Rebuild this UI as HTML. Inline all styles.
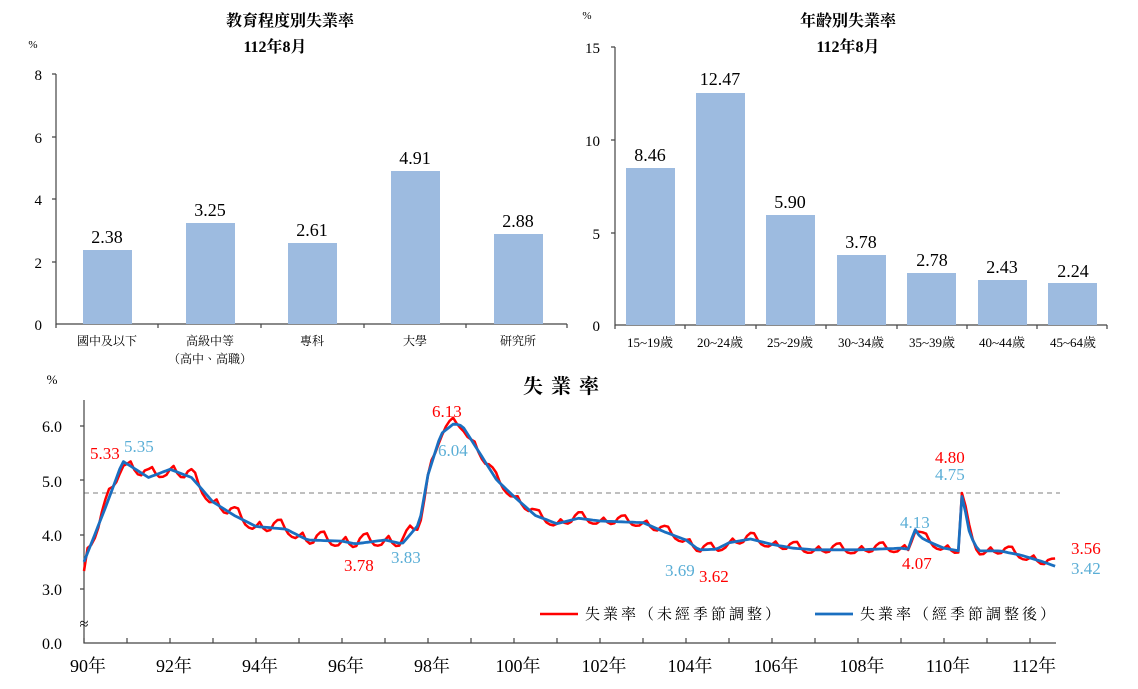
<!DOCTYPE html>
<html><head><meta charset="utf-8"><style>
body{margin:0;background:#fff;width:1138px;height:684px;overflow:hidden}
svg text{font-family:"Liberation Serif","Noto Serif CJK TC",serif}
.cj{font-family:"Liberation Serif","Noto Serif CJK TC","Noto Sans CJK TC",serif}
</style></head><body>
<svg id="s" width="1138" height="684" xmlns="http://www.w3.org/2000/svg">
<text x="290" y="26" text-anchor="middle" font-size="16" font-weight="bold" class="cj">教育程度別失業率</text>
<text x="275" y="52" text-anchor="middle" font-size="16" font-weight="bold" class="cj">112年8月</text>
<text x="33" y="48" font-size="11" text-anchor="middle">%</text>
<g font-size="15" text-anchor="end">
<text x="42" y="80">8</text><text x="42" y="143">6</text><text x="42" y="205">4</text><text x="42" y="268">2</text><text x="42" y="330">0</text></g>
<g stroke="#444" stroke-width="1.2" fill="none">
<path d="M56 74V324H567"/><path d="M52 74H56M52 137H56M52 199H56M52 262H56M56 324v4M158 324v4M261 324v4M364 324v4M466 324v4M567 324v4"/></g>
<g fill="#9dbbe0">
<rect x="83" y="250" width="49" height="74"/><rect x="186" y="223" width="49" height="101"/><rect x="288" y="243" width="49" height="81"/><rect x="391" y="171" width="49" height="153"/><rect x="494" y="234" width="49" height="90"/></g>
<g font-size="18" text-anchor="middle">
<text x="107" y="243">2.38</text><text x="210" y="216">3.25</text><text x="312" y="236">2.61</text><text x="415" y="164">4.91</text><text x="518" y="227">2.88</text></g>
<g font-size="12" text-anchor="middle" class="cj">
<text x="107" y="345">國中及以下</text><text x="210" y="345">高級中等</text><text x="210" y="363">（高中、高職）</text><text x="312" y="345">專科</text><text x="415" y="345">大學</text><text x="518" y="345">研究所</text></g>
<text x="848" y="26" text-anchor="middle" font-size="16" font-weight="bold" class="cj">年齡別失業率</text>
<text x="848" y="52" text-anchor="middle" font-size="16" font-weight="bold" class="cj">112年8月</text>
<text x="587" y="19" font-size="11" text-anchor="middle">%</text>
<g font-size="15" text-anchor="end">
<text x="600" y="53">15</text><text x="600" y="146">10</text><text x="600" y="239">5</text><text x="600" y="331">0</text></g>
<g stroke="#444" stroke-width="1.2" fill="none">
<path d="M615 47V325H1107"/><path d="M611 47H615M611 140H615M611 233H615M615 325v4M685 325v4M756 325v4M826 325v4M897 325v4M967 325v4M1037 325v4M1107 325v4"/></g>
<g fill="#9dbbe0">
<rect x="626" y="168" width="49" height="157"/><rect x="696" y="93" width="49" height="232"/><rect x="766" y="215" width="49" height="110"/><rect x="837" y="255" width="49" height="70"/><rect x="907" y="273" width="49" height="52"/><rect x="978" y="280" width="49" height="45"/><rect x="1048" y="283" width="49" height="42"/></g>
<g font-size="18" text-anchor="middle">
<text x="650" y="161">8.46</text><text x="720" y="85">12.47</text><text x="790" y="208">5.90</text><text x="861" y="248">3.78</text><text x="932" y="266">2.78</text><text x="1002" y="273">2.43</text><text x="1073" y="277">2.24</text></g>
<g font-size="13" text-anchor="middle" class="cj">
<text x="650" y="347">15~19歲</text><text x="720" y="347">20~24歲</text><text x="790" y="347">25~29歲</text><text x="861" y="347">30~34歲</text><text x="932" y="347">35~39歲</text><text x="1002" y="347">40~44歲</text><text x="1073" y="347">45~64歲</text></g>
<text x="565" y="393" text-anchor="middle" font-size="20" font-weight="bold" letter-spacing="8" class="cj">失業率</text>
<text x="52" y="384" font-size="13" text-anchor="middle">%</text>
<g font-size="16" text-anchor="end">
<text x="62" y="432">6.0</text><text x="62" y="487">5.0</text><text x="62" y="541">4.0</text><text x="62" y="595">3.0</text><text x="62" y="649">0.0</text></g>
<line x1="84" y1="493" x2="1060" y2="493" stroke="#999" stroke-width="1.2" stroke-dasharray="5,4"/>
<g stroke="#444" stroke-width="1.2" fill="none" id="ax">
<path d="M84 400V643H1056"/><path d="M80 426H84M80 480H84M80 535H84M80 589H84"/></g>
<text x="84" y="629" font-size="16" text-anchor="middle">≈</text>
<g id="yl" font-size="18" text-anchor="middle" class="cj"></g>
<polyline id="red" fill="none" stroke="#ff0000" stroke-width="2.5" stroke-linejoin="round"/>
<polyline id="blue" fill="none" stroke="#1a6fc0" stroke-width="2.8" stroke-linejoin="round"/>
<g font-size="17">
<text x="90" y="459" fill="#f00">5.33</text><text x="124" y="452" fill="#5aaed6">5.35</text>
<text x="432" y="417" fill="#f00">6.13</text><text x="438" y="456" fill="#5aaed6">6.04</text>
<text x="344" y="571" fill="#f00">3.78</text><text x="391" y="563" fill="#5aaed6">3.83</text>
<text x="665" y="576" fill="#5aaed6">3.69</text><text x="699" y="582" fill="#f00">3.62</text>
<text x="900" y="528" fill="#5aaed6">4.13</text><text x="902" y="569" fill="#f00">4.07</text>
<text x="935" y="463" fill="#f00">4.80</text><text x="935" y="480" fill="#5aaed6">4.75</text>
<text x="1071" y="554" fill="#f00">3.56</text><text x="1071" y="574" fill="#5aaed6">3.42</text></g>
<g font-size="15" class="cj" letter-spacing="3">
<line x1="540" y1="614" x2="578" y2="614" stroke="#f00" stroke-width="2.5"/><text x="585" y="619">失業率（未經季節調整）</text>
<line x1="815" y1="614" x2="853" y2="614" stroke="#1a6fc0" stroke-width="2.8"/><text x="860" y="619">失業率（經季節調整後）</text></g>
</svg>
<script>
var ns="http://www.w3.org/2000/svg";
var yl=document.getElementById('yl'),ax=document.getElementById('ax');
for(var y=90;y<=112;y++){var x=84+(y-90)*43;
var p=document.createElementNS(ns,'path');p.setAttribute('d','M'+x+' 643v-5');ax.appendChild(p);
if(y%2==0){var t=document.createElementNS(ns,'text');t.setAttribute('x',x+4);t.setAttribute('y',672);t.textContent=y+'年';yl.appendChild(t);}}
var K=[[90,3.5],[90.5,4.5],[90.9,5.35],[91.5,5.05],[92,5.2],[92.5,5.05],[93,4.6],[93.5,4.35],[94,4.15],[94.7,4.1],[95.2,3.9],[96,3.88],[96.3,3.83],[97,3.9],[97.4,3.83],[97.8,4.2],[98,5.1],[98.3,5.85],[98.6,6.04],[98.8,6.0],[99.2,5.5],[99.6,5.0],[100,4.7],[100.5,4.35],[101,4.2],[101.5,4.3],[102,4.25],[103,4.22],[103.5,4.05],[104,3.9],[104.3,3.72],[104.7,3.73],[105,3.85],[105.5,3.92],[106,3.82],[106.5,3.75],[107,3.72],[108,3.72],[109,3.75],[109.2,3.73],[109.3,4.13],[109.45,3.95],[109.7,3.85],[110,3.75],[110.35,3.7],[110.42,4.75],[110.6,4.0],[110.8,3.7],[111.3,3.7],[111.8,3.62],[112.3,3.5],[112.58,3.42]];
function f(t){for(var i=1;i<K.length;i++){if(t<=K[i][0]){var a=K[i-1],b=K[i];return a[1]+(b[1]-a[1])*(t-a[0])/(b[0]-a[0]);}}return K[K.length-1][1];}
var S=[0,0.08,-0.02,-0.06,-0.04,0.08,0.14,0.15,0.02,-0.06,-0.08,-0.07];
function Y(v){return 589-(v-3)*54.4;}
var r=[],b=[];
for(var m=0;m<=271;m++){var t=90+m/12,x=84+m*43/12,v=f(t),rv=v+S[m%12]*(t<98?1.1:0.8);
if(m==0)rv=3.33;if(m==271)rv=3.56;
b.push(x.toFixed(1)+','+Y(v).toFixed(1));r.push(x.toFixed(1)+','+Y(rv).toFixed(1));}
document.getElementById('red').setAttribute('points',r.join(' '));
document.getElementById('blue').setAttribute('points',b.join(' '));
</script>
</body></html>
